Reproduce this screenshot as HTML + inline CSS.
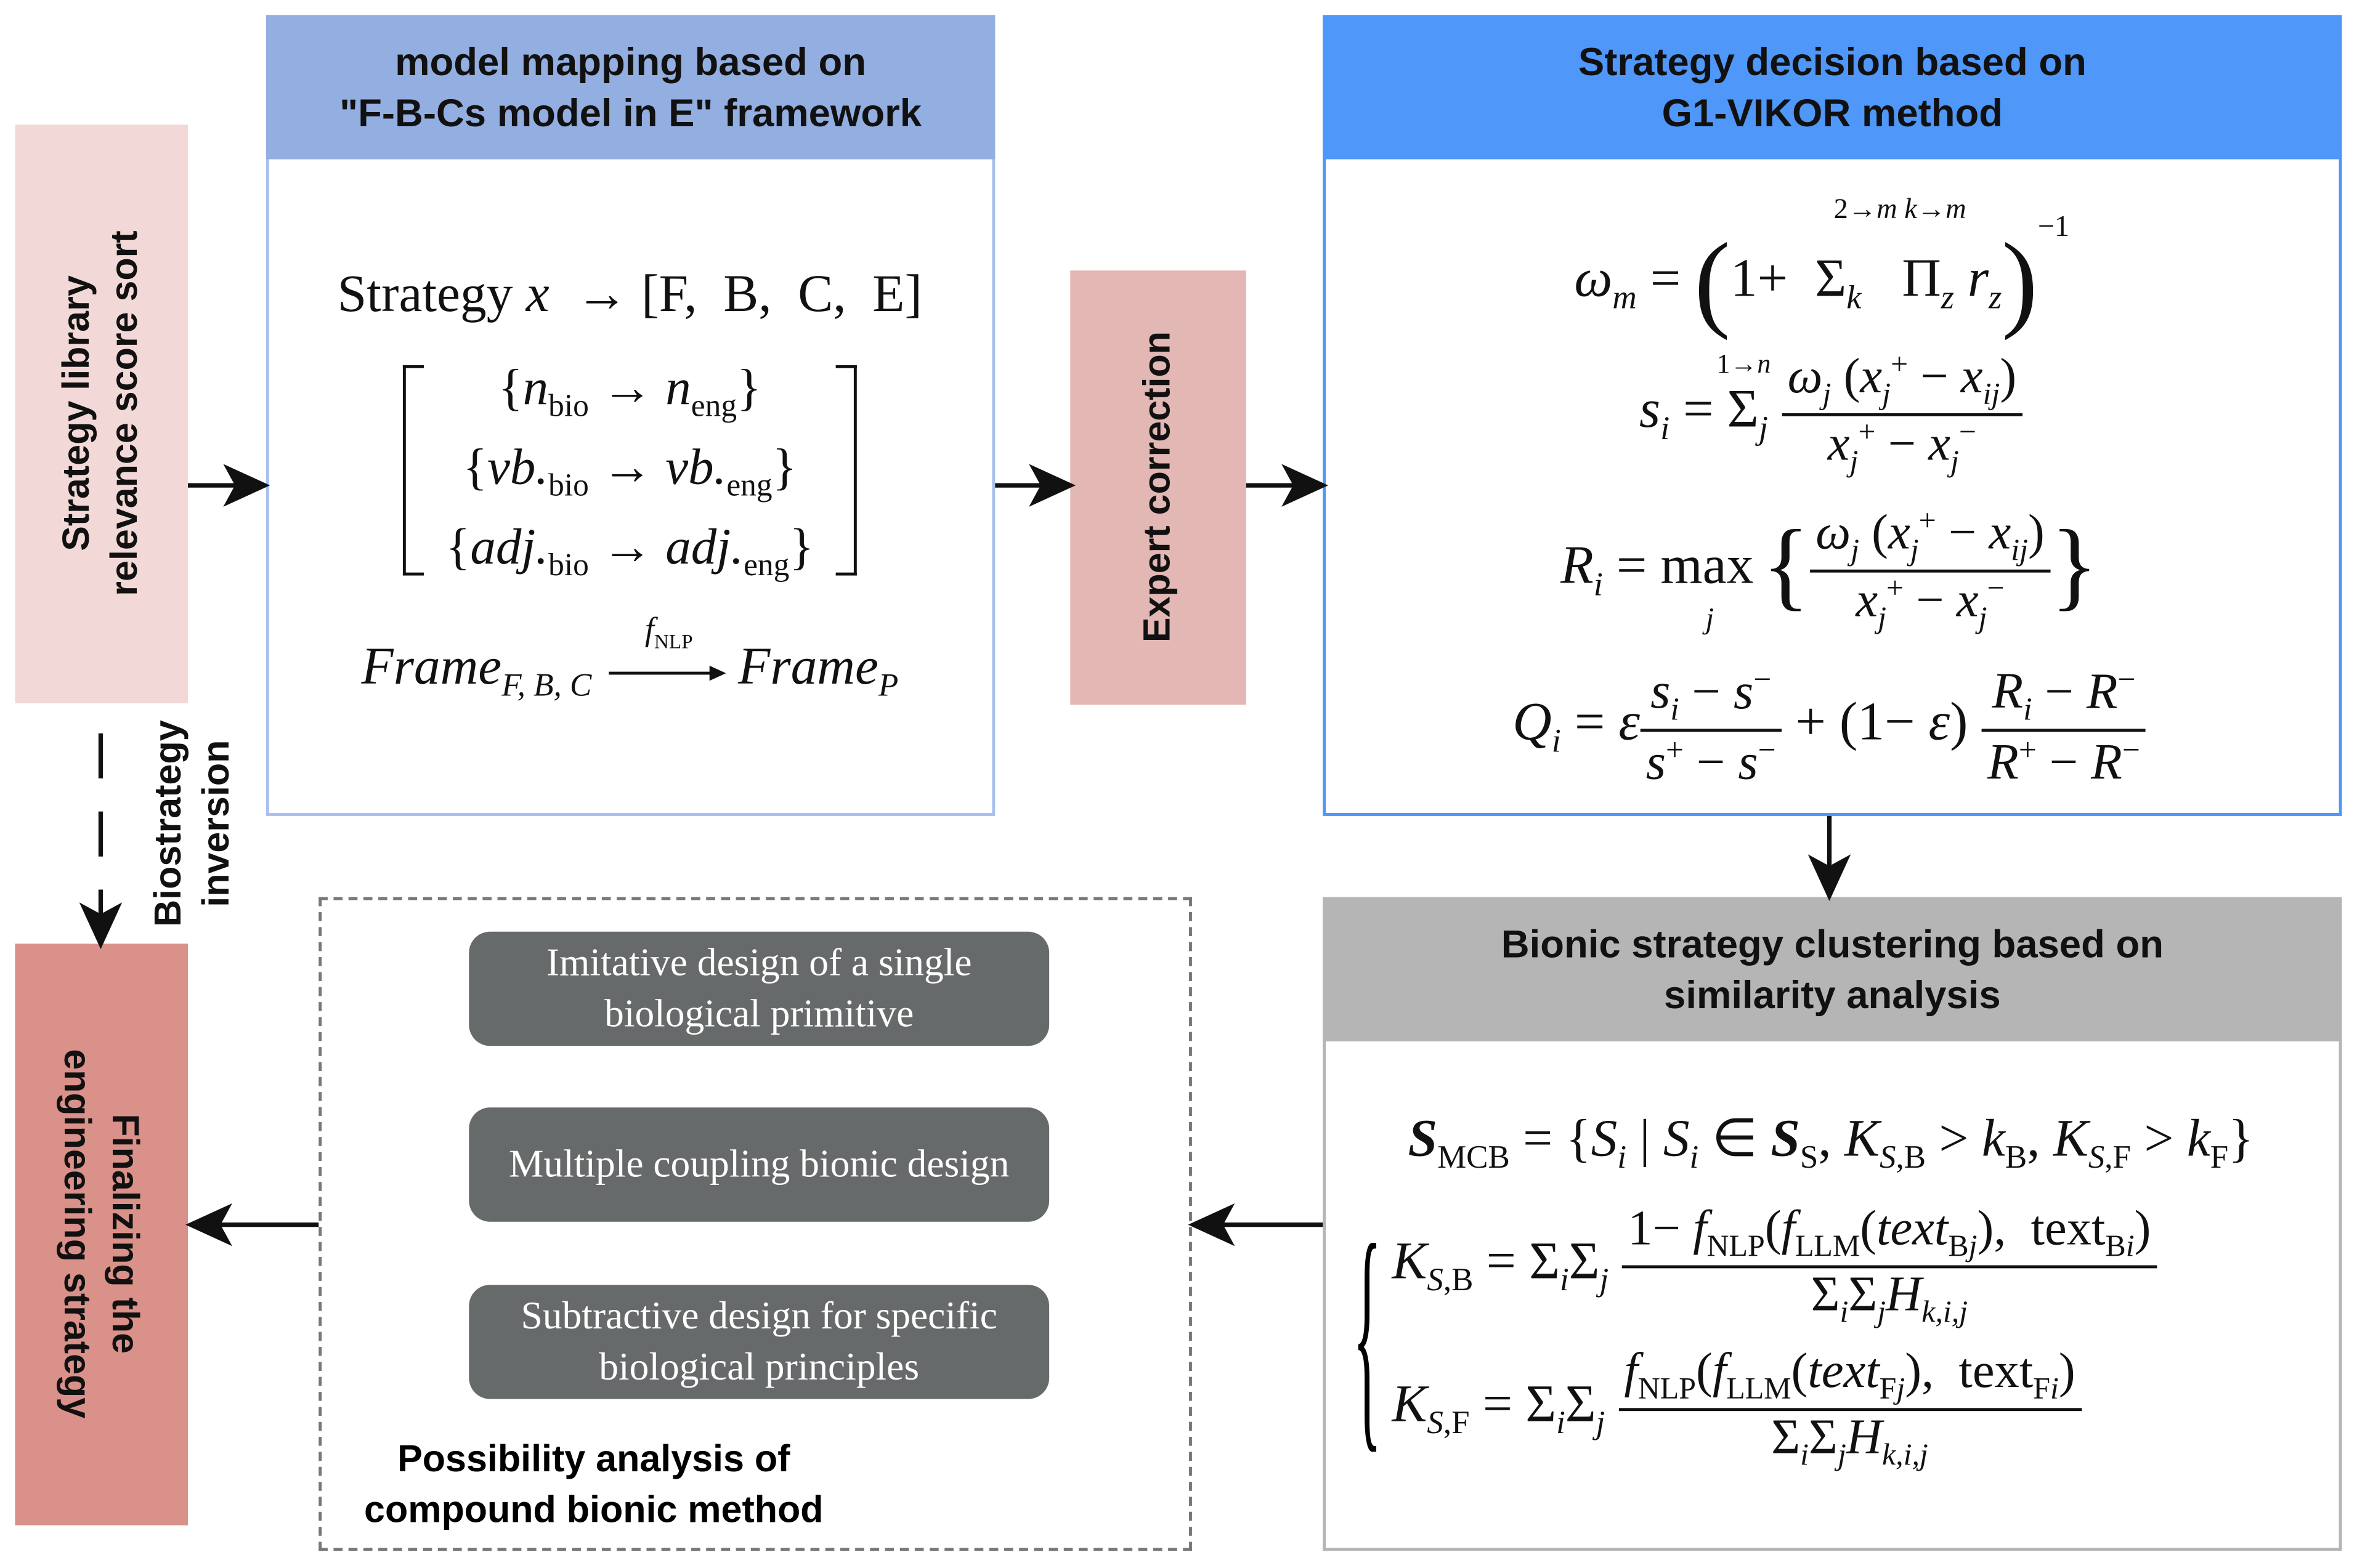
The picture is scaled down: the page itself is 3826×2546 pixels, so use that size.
<!DOCTYPE html>
<html><head><meta charset="utf-8"><style>
html,body{margin:0;padding:0;background:#fff;}
body{width:3826px;height:2546px;overflow:hidden;position:relative;}
#s{position:absolute;left:0;top:0;width:1568px;height:1043px;transform:scale(2.44);transform-origin:0 0;font-family:"Liberation Sans",sans-serif;}
.a{position:absolute;box-sizing:border-box;}
.hd{font-weight:bold;font-size:26px;text-align:center;line-height:34px;color:#111;display:flex;align-items:center;justify-content:center;}
.rot{position:absolute;white-space:nowrap;font-weight:bold;font-size:25px;line-height:32px;text-align:center;color:#111;}
.m{position:absolute;font-family:"Liberation Serif",serif;font-size:36px;color:#111;white-space:nowrap;transform:translateX(-50%);}
.m i{font-style:italic;}
.fr{display:inline-block;vertical-align:middle;text-align:center;}
.fr>span{display:block;padding:0 4px;}
.fr>span:first-child{border-bottom:2px solid #111;}
sub,sup{font-size:62%;}
.pill{position:absolute;left:312px;width:386px;height:76px;background:#676a6a;border-radius:14px;color:#fff;font-family:"Liberation Serif",serif;font-size:26px;text-align:center;display:flex;align-items:center;justify-content:center;line-height:34px;}
svg{position:absolute;left:0;top:0;}
</style></head><body><div id="s">
<div class="a" style="left:10px;top:83px;width:115px;height:385px;background:#f2d9d7"></div>
<div class="rot" style="left:67px;top:275px;transform:translate(-50%,-50%) rotate(-90deg)">Strategy library<br>relevance score sort</div>
<div class="a" style="left:177px;top:10px;width:485px;height:533px;border:2px solid #a8c0ee"></div>
<div class="a hd" style="left:177px;top:10px;width:485px;height:96px;background:#93aee0">model mapping based on<br>"F-B-Cs model in E" framework</div>
<div class="m" style="left:419px;top:176px;font-size:35px">Strategy <i>x</i> &nbsp;→ [F,&nbsp; B,&nbsp; C,&nbsp; E]</div>
<div class="a" style="left:268px;top:243px;width:14px;height:140px;border:2px solid #111;border-right:none"></div>
<div class="a" style="left:556px;top:243px;width:14px;height:140px;border:2px solid #111;border-left:none"></div>
<div class="m" style="left:419px;top:240px;font-size:34px">{<i>n</i><sub>bio</sub> → <i>n</i><sub>eng</sub>}</div>
<div class="m" style="left:419px;top:293px;font-size:34px">{<i>vb.</i><sub>bio</sub> → <i>vb.</i><sub>eng</sub>}</div>
<div class="m" style="left:419px;top:346px;font-size:34px">{<i>adj.</i><sub>bio</sub> → <i>adj.</i><sub>eng</sub>}</div>
<div class="m" style="left:419px;top:424px;font-size:35px"><i>Frame</i><sub><i>F, B, C</i></sub> <span style="display:inline-block;width:80px"></span> <i>Frame</i><sub><i>P</i></sub></div>
<div class="m" style="left:445px;top:406px;font-size:22px"><i>f</i><sub>NLP</sub></div>
<div class="a" style="left:712px;top:180px;width:117px;height:289px;background:#e3b7b4"></div>
<div class="rot" style="left:770px;top:324px;transform:translate(-50%,-50%) rotate(-90deg)">Expert correction</div>
<div class="a" style="left:880px;top:10px;width:678px;height:533px;border:2px solid #4f97f9"></div>
<div class="a hd" style="left:880px;top:10px;width:678px;height:96px;background:#4f97f9">Strategy decision based on<br>G1-VIKOR method</div>
<div class="m" style="left:1212px;top:140px"><i>ω<sub>m</sub></i> = <span style="font-size:72px;vertical-align:-14px">(</span>1+ &nbsp;Σ<sub><i>k</i></sub> &nbsp;&nbsp;Π<sub><i>z</i></sub> <i>r<sub>z</sub></i><span style="font-size:72px;vertical-align:-14px">)</span><sup style="vertical-align:40px;font-size:55%">−1</sup></div>
<div class="m" style="left:1264px;top:129px;font-size:19px">2→<i>m k</i>→<i>m</i></div>
<div class="m" style="left:1160px;top:232px;font-size:18px">1→<i>n</i></div>
<div class="m" style="left:1218px;top:232px"><i>s<sub>i</sub></i> = Σ<sub><i>j</i></sub> <span class="fr" style="font-size:33px"><span><i>ω<sub>j</sub></i> (<i>x<sub>j</sub></i><sup>+</sup> − <i>x<sub>ij</sub></i>)</span><span><i>x<sub>j</sub></i><sup>+</sup> − <i>x<sub>j</sub></i><sup>−</sup></span></span></div>
<div class="m" style="left:1217px;top:336px"><i>R<sub>i</sub></i> = max<span style="font-size:20px;position:relative;left:-32px;top:30px"><i>j</i></span><span style="font-size:66px;vertical-align:-10px">{</span><span class="fr" style="font-size:33px"><span><i>ω<sub>j</sub></i> (<i>x<sub>j</sub></i><sup>+</sup> − <i>x<sub>ij</sub></i>)</span><span><i>x<sub>j</sub></i><sup>+</sup> − <i>x<sub>j</sub></i><sup>−</sup></span></span><span style="font-size:66px;vertical-align:-10px">}</span></div>
<div class="m" style="left:1217px;top:440px"><i>Q<sub>i</sub></i> = <i>ε</i><span class="fr" style="font-size:34px"><span><i>s<sub>i</sub></i> − <i>s</i><sup>−</sup></span><span><i>s</i><sup>+</sup> − <i>s</i><sup>−</sup></span></span> + (1− <i>ε</i>) <span class="fr" style="font-size:34px"><span><i>R<sub>i</sub></i> − <i>R</i><sup>−</sup></span><span><i>R</i><sup>+</sup> − <i>R</i><sup>−</sup></span></span></div>
<div class="a" style="left:880px;top:597px;width:678px;height:435px;border:2px solid #b5b5b5"></div>
<div class="a hd" style="left:880px;top:597px;width:678px;height:96px;background:#b5b5b5">Bionic strategy clustering based on<br>similarity analysis</div>
<div class="m" style="left:1218px;top:738px;font-size:35px"><b><i>S</i></b><sub>MCB</sub> = {<i>S<sub>i</sub></i> | <i>S<sub>i</sub></i> ∈ <b><i>S</i></b><sub>S</sub>, <i>K</i><sub><i>S</i>,B</sub> &gt; <i>k</i><sub>B</sub>, <i>K</i><sub><i>S</i>,F</sub> &gt; <i>k</i><sub>F</sub>}</div>
<div class="a" style="left:900px;top:805px;font-family:'Liberation Serif',serif;font-size:40px;line-height:40px;"><span style="display:block;transform:scaleY(4.2);transform-origin:0 0;">{</span></div>
<div class="m" style="left:926px;top:800px;transform:none;font-size:35px"><i>K</i><sub><i>S</i>,B</sub> = Σ<sub><i>i</i></sub>Σ<sub><i>j</i></sub> <span class="fr" style="font-size:33px"><span>1− <i>f</i><sub>NLP</sub>(<i>f</i><sub>LLM</sub>(<i>text</i><sub>B<i>j</i></sub>), &nbsp;text<sub>B<i>i</i></sub>)</span><span>Σ<sub><i>i</i></sub>Σ<sub><i>j</i></sub><i>H</i><sub><i>k,i,j</i></sub></span></span></div>
<div class="m" style="left:926px;top:895px;transform:none;font-size:35px"><i>K</i><sub><i>S</i>,F</sub> = Σ<sub><i>i</i></sub>Σ<sub><i>j</i></sub> <span class="fr" style="font-size:33px"><span><i>f</i><sub>NLP</sub>(<i>f</i><sub>LLM</sub>(<i>text</i><sub>F<i>j</i></sub>), &nbsp;text<sub>F<i>i</i></sub>)</span><span>Σ<sub><i>i</i></sub>Σ<sub><i>j</i></sub><i>H</i><sub><i>k,i,j</i></sub></span></span></div>
<div class="a" style="left:212px;top:597px;width:581px;height:435px;border:2px dashed #777"></div>
<div class="pill" style="top:620px">Imitative design of a single<br>biological primitive</div>
<div class="pill" style="top:737px">Multiple coupling bionic design</div>
<div class="pill" style="top:855px">Subtractive design for specific<br>biological principles</div>
<div class="a" style="left:215px;top:954px;width:360px;font-weight:bold;font-size:25px;line-height:34px;text-align:center">Possibility analysis of<br>compound bionic method</div>
<div class="a" style="left:10px;top:628px;width:115px;height:387px;background:#d9918a"></div>
<div class="rot" style="left:67px;top:821px;transform:translate(-50%,-50%) rotate(90deg)">Finalizing the<br>engineering strategy</div>
<div class="rot" style="left:128px;top:548px;transform:translate(-50%,-50%) rotate(-90deg)">Biostrategy<br>inversion</div>
<svg width="1568" height="1043" viewBox="0 0 1568 1043">
<g stroke="#111" stroke-width="3" fill="#111">
<line x1="125" y1="323" x2="162" y2="323"/><path d="M176,323 L152,312 L158,323 L152,334z"/>
<line x1="662" y1="323" x2="698" y2="323"/><path d="M712,323 L688,312 L694,323 L688,334z"/>
<line x1="829" y1="323" x2="866" y2="323"/><path d="M880,323 L856,312 L862,323 L856,334z"/>
<line x1="1217" y1="543" x2="1217" y2="582"/><path d="M1217,596 L1206,572 L1217,578 L1228,572z"/>
<line x1="880" y1="815" x2="808" y2="815"/><path d="M794,815 L818,804 L812,815 L818,826z"/>
<line x1="212" y1="815" x2="141" y2="815"/><path d="M127,815 L151,804 L145,815 L151,826z"/>
<line x1="67" y1="488" x2="67" y2="612" stroke-dasharray="30,22"/><path d="M67,628 L56,604 L67,610 L78,604z"/>
</g>
<line x1="405" y1="448" x2="478" y2="448" stroke="#111" stroke-width="2"/><path d="M483,448 L472,443 L472,453z" fill="#111"/>
</svg>
</div></body></html>
